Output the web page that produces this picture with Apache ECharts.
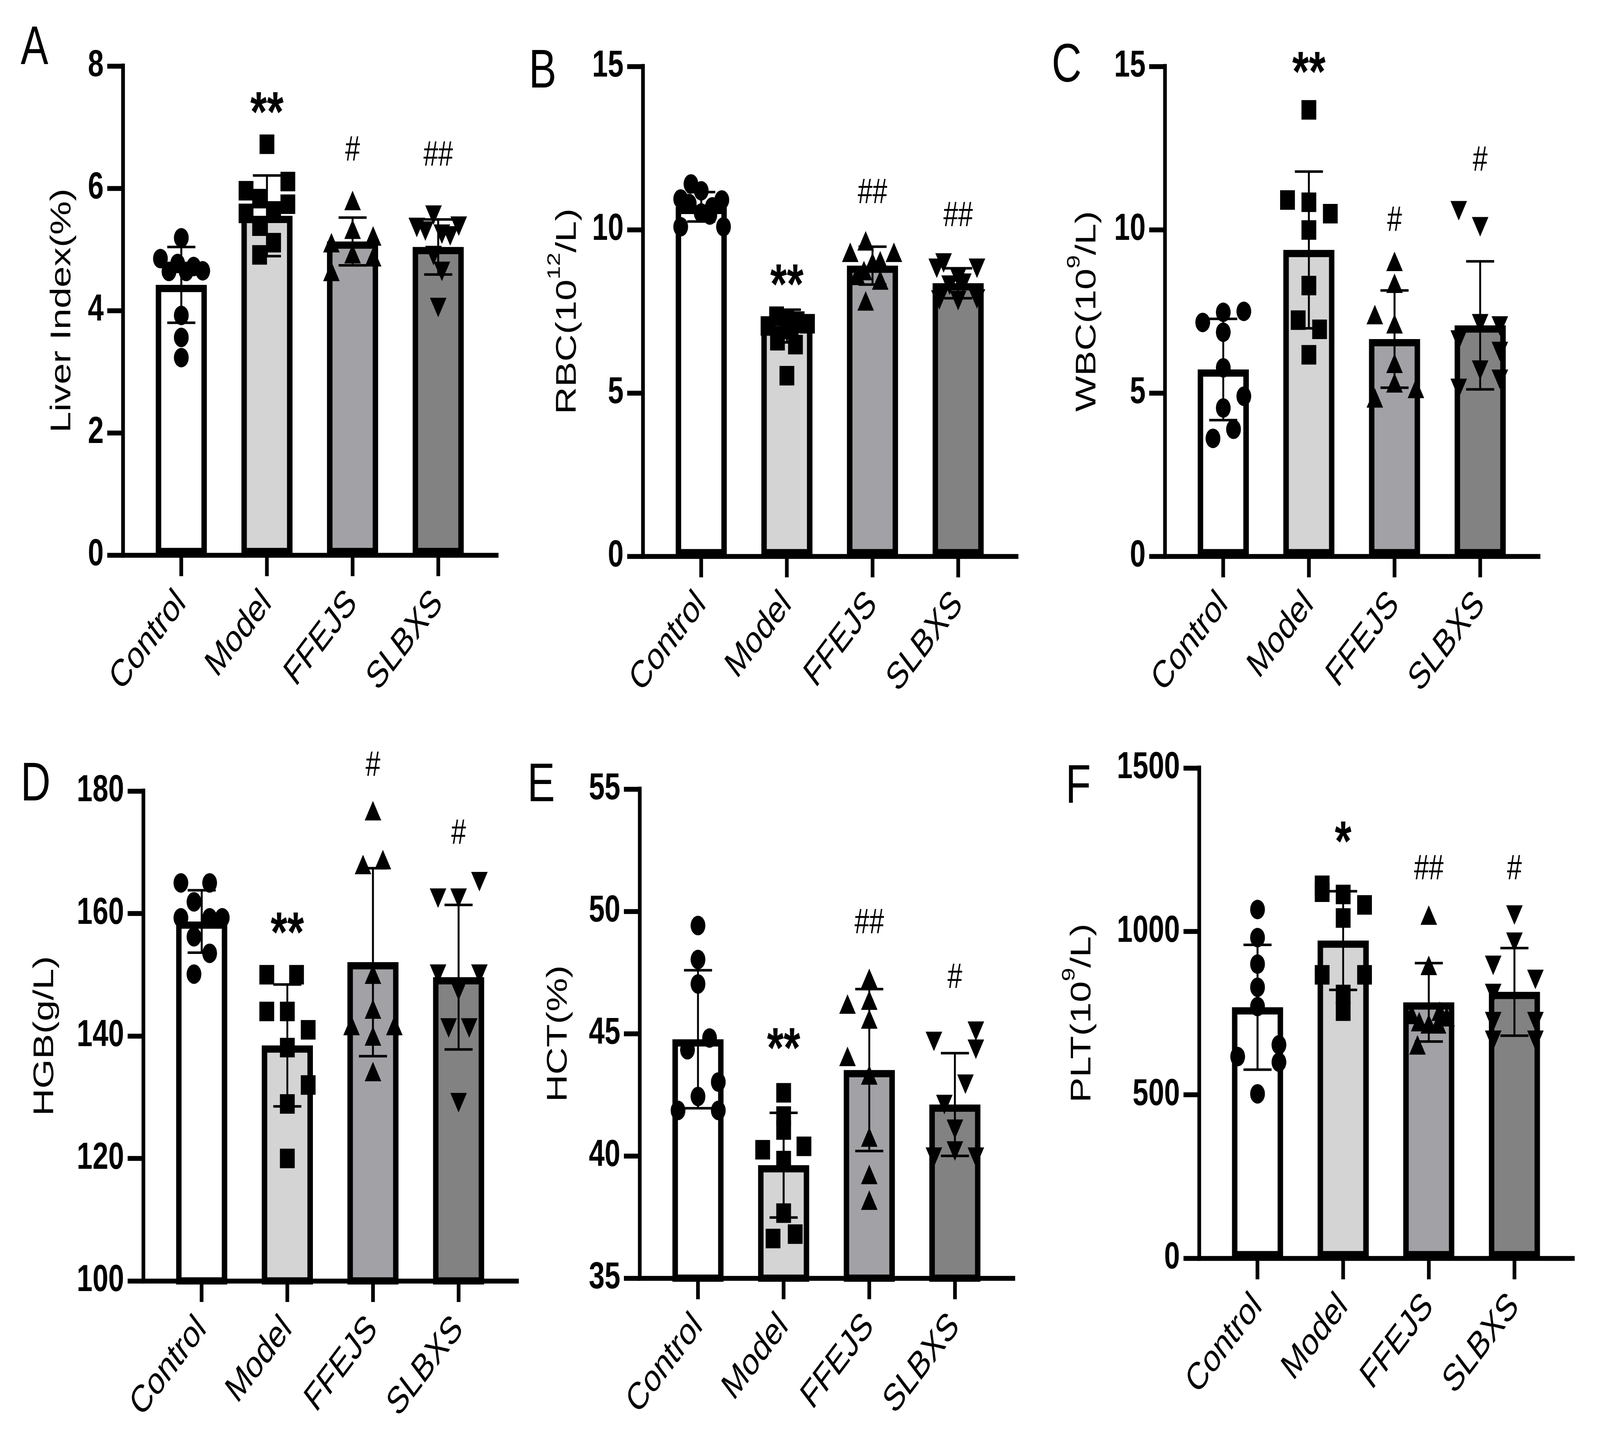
<!DOCTYPE html>
<html><head><meta charset="utf-8">
<script src="https://cdn.jsdelivr.net/npm/echarts@6/dist/echarts.min.js"></script>
<style>html,body{margin:0;padding:0;background:#fff;overflow:hidden;width:100%;height:100%}
#c{position:absolute;left:0;top:0;width:5416px;height:3717px;transform-origin:0 0}</style>
</head><body><div id="c"></div>
<script>
const categories = ['Control', 'Model', 'FFEJS', 'SLBXS'];

// A: Liver Index (%)
const liverMean = [4.42, 5.55, 5.13, 5.04];
const liverSD = [0.62, 0.66, 0.39, 0.45];
const liverValues = [
  [5.19, 4.85, 4.64, 4.77, 4.64, 4.72, 4.65, 3.92, 3.56, 3.23],
  [6.72, 5.96, 6.11, 5.83, 5.74, 5.59, 5.63, 5.38, 5.11, 4.91],
  [5.80, 5.33, 4.93, 5.11, 4.64, 5.22, 4.88],
  [5.56, 5.38, 5.36, 5.30, 5.25, 5.22, 4.90, 4.64, 4.05]
];
const liverSig = ['', '**', '#', '##'];
const liverSigY = [null, 7.39, 6.61, 6.53];

// B: RBC (10^12/L)
const rbcMean = [10.70, 7.05, 8.90, 8.36];
const rbcSD = [0.45, 0.50, 0.58, 0.46];
const rbcValues = [
  [11.40, 11.19, 10.94, 10.91, 10.80, 10.70, 10.51, 10.45, 10.09, 10.09],
  [7.35, 7.26, 7.20, 7.12, 7.05, 6.95, 6.60, 6.48, 5.53],
  [9.66, 9.31, 9.31, 9.05, 9.00, 8.75, 8.60, 8.46, 7.82],
  [8.98, 8.82, 8.82, 8.53, 8.36, 8.30, 7.85, 7.83, 7.88]
];
const rbcSig = ['', '**', '##', '##'];
const rbcSigY = [null, 8.60, 11.11, 10.40];

// C: WBC (10^9/L)
const wbcMean = [5.72, 9.38, 6.65, 7.07];
const wbcSD = [1.55, 2.40, 1.49, 1.96];
const wbcValues = [
  [7.16, 7.47, 7.50, 6.86, 5.77, 4.90, 4.54, 3.61, 3.89],
  [13.67, 10.91, 10.84, 10.49, 9.99, 8.29, 7.23, 6.95, 6.17],
  [9.03, 8.36, 7.40, 7.12, 5.91, 5.31, 5.14, 4.85],
  [10.58, 10.09, 7.12, 7.05, 6.62, 6.27, 5.70, 5.14, 5.42]
];
const wbcSig = ['', '**', '#', '#'];
const wbcSigY = [null, 15.11, 10.26, 12.10];

// D: HGB (g/L)
const hgbMean = [158.7, 138.45, 152.05, 149.6];
const hgbSD = [5.1, 9.95, 15.35, 11.8];
const hgbValues = [
  [165, 165, 161.9, 159.3, 159.3, 159.3, 156.2, 153.5, 150.1],
  [150, 150, 144, 144, 141, 138.1, 132, 128.9, 120],
  [176.8, 168, 168.8, 150.1, 144.4, 141.7, 141.7, 140, 134.2],
  [162.5, 162.5, 165.2, 150.1, 150.1, 147.4, 141.3, 141.3, 129.1]
];
const hgbSig = ['', '**', '#', '#'];
const hgbSigY = [null, 158.35, 184.06, 173.0];

// E: HCT (%)
const hctMean = [44.77, 39.62, 43.51, 42.10];
const hctSD = [2.82, 2.14, 3.31, 2.10];
const hctValues = [
  [49.42, 48.03, 47.03, 44.82, 44.34, 43.02, 42.43, 41.86, 41.86],
  [42.58, 41.63, 41.06, 40.25, 40.39, 39.81, 37.66, 36.62, 36.80],
  [47.26, 46.21, 46.37, 45.60, 44.07, 43.31, 40.77, 39.24, 38.19],
  [44.68, 45.10, 44.36, 42.93, 42.10, 41.09, 39.95, 40.20, 39.95]
];
const hctSig = ['', '**', '##', '#'];
const hctSigY = [null, 44.78, 49.50, 47.26];

// F: PLT (10^9/L)
const pltMean = [768, 972, 783, 815];
const pltSD = [191, 151, 120, 134];
const pltValues = [
  [1067, 981, 900, 829, 770, 653, 617, 600, 503],
  [1141, 1120, 1113, 1081, 1041, 867, 867, 807, 756],
  [1050, 896, 746, 756, 724, 717, 717, 739, 653],
  [1050, 967, 896, 853, 810, 724, 724, 667, 667]
];
const pltSig = ['', '*', '##', '#'];
const pltSigY = [null, 1303, 1189, 1189];

// Horizontal scatter jitter of the dots (layout only, in category units)
const jitter = {
  liver: [[0, -0.244, -0.144, -0.043, 0.057, 0.144, 0.25, 0, 0, 0],
          [0, -0.244, 0.244, -0.086, 0.244, -0.244, 0.078, -0.086, 0.078, -0.086],
          [0, 0, 0, -0.247, -0.247, 0.24, 0.24],
          [-0.055, 0.24, -0.25, -0.15, 0.043, 0.14, -0.055, 0.043, 0]],
  rbc:   [[-0.12, 0.0, -0.24, 0.24, -0.14, 0.13, 0.0, 0.10, -0.24, 0.26],
          [-0.12, 0, 0.12, 0.24, -0.22, 0.05, -0.11, 0.1, 0],
          [-0.08, -0.26, 0.25, 0.09, 0.0, -0.1, -0.18, 0.09, -0.08],
          [-0.17, -0.25, 0.22, 0, 0.06, -0.1, -0.22, 0, 0.22]],
  wbc:   [[-0.24, 0, 0.24, 0, 0, 0.24, 0, -0.12, 0.12],
          [0, -0.25, 0, 0.25, 0, 0, -0.125, 0.125, 0],
          [0, 0, -0.23, 0, 0, 0, 0.25, -0.23],
          [-0.25, 0, 0, 0.23, -0.25, 0.23, 0, -0.25, 0.23]],
  hgb:   [[-0.243, 0.093, -0.09, -0.243, 0.093, 0.24, -0.09, 0.093, -0.09],
          [-0.24, 0.108, -0.24, 0, 0.243, 0, 0.243, 0, 0],
          [0, -0.116, 0.116, 0, 0, -0.25, 0.25, 0, 0],
          [-0.24, 0, 0.243, -0.24, 0.243, 0, -0.116, 0.124, 0]],
  hct:   [[0, 0, 0, 0.135, -0.123, 0.237, 0, -0.233, 0.237],
          [0, 0, 0, -0.245, 0.237, 0, 0, -0.123, 0.135],
          [0, -0.254, 0, 0, -0.254, 0, 0, 0, 0],
          [-0.245, 0.245, 0.245, 0.123, -0.123, 0, -0.245, 0, 0.245]],
  plt:   [[0, 0, 0, 0, 0, 0.25, -0.232, 0.25, 0],
          [-0.245, -0.245, 0, 0.25, 0, -0.245, 0.25, 0, 0],
          [0, 0, -0.2, 0.128, -0.112, 0, 0.108, 0.208, -0.132],
          [0, 0, -0.248, 0.245, -0.248, -0.248, 0.245, 0.245, -0.248]]
};

const FONT = "'Liberation Sans', Arial, sans-serif";
const barColors = ['#ffffff', '#d4d4d4', '#a2a2a6', '#828282'];
const symbols = [
  { symbol: 'circle', size: 50, rotate: 0 },
  { symbol: 'rect', size: 50, rotate: 0 },
  { symbol: 'triangle', size: [56, 50], rotate: 0 },
  { symbol: 'triangle', size: [56, 50], rotate: 180 }
];

const panels = [
  { key: 'liver', letter: 'A', name: 'Liver Index(%)', mean: liverMean, sd: liverSD, values: liverValues, sig: liverSig, sigY: liverSigY,
    min: 0, max: 8, interval: 2, left: 416, top: 169, height: 1252, nameGap: 156, lx: 70, ly: 55 },
  { key: 'rbc', letter: 'B', name: '{m|RBC(10}{s|12}{m|/L)}', mean: rbcMean, sd: rbcSD, values: rbcValues, sig: rbcSig, sigY: rbcSigY,
    min: 0, max: 15, interval: 5, left: 2176, top: 170, height: 1254, nameGap: 205, lx: 1790, ly: 115 },
  { key: 'wbc', letter: 'C', name: '{m|WBC(10}{s|9}{m|/L)}', mean: wbcMean, sd: wbcSD, values: wbcValues, sig: wbcSig, sigY: wbcSigY,
    min: 0, max: 15, interval: 5, left: 3943, top: 170, height: 1254, nameGap: 213, lx: 3560, ly: 100 },
  { key: 'hgb', letter: 'D', name: 'HGB(g/L)', mean: hgbMean, sd: hgbSD, values: hgbValues, sig: hgbSig, sigY: hgbSigY,
    min: 100, max: 180, interval: 20, left: 485, top: 2025, height: 1254, nameGap: 283, lx: 70, ly: 1940 },
  { key: 'hct', letter: 'E', name: 'HCT(%)', mean: hctMean, sd: hctSD, values: hctValues, sig: hctSig, sigY: hctSigY,
    min: 35, max: 55, interval: 5, left: 2165, top: 2020, height: 1252, nameGap: 225, lx: 1785, ly: 1942 },
  { key: 'plt', letter: 'F', name: '{m|PLT(10}{s|9}{m|/L)}', mean: pltMean, sd: pltSD, values: pltValues, sig: pltSig, sigY: pltSigY,
    min: 0, max: 1500, interval: 500, left: 4059, top: 1966, height: 1255, nameGap: 346, lx: 3607, ly: 1946 }
];

const option = { backgroundColor: '#ffffff', animation: false, grid: [], xAxis: [], yAxis: [], series: [], title: [] };

panels.forEach((p, i) => {
  option.grid.push({ left: p.left, top: p.top, width: 1265, height: p.height, containLabel: false, outerBoundsMode: 'none' });
  option.title.push({ text: p.letter, left: p.lx, top: p.ly, padding: 0,
    textStyle: { fontSize: 140, fontWeight: 'normal', fontFamily: FONT, color: '#000' } });
  option.xAxis.push({
    type: 'value', gridIndex: i, min: -0.682, max: 3.682, z: 6,
    axisLine: { show: true, onZero: false, lineStyle: { color: '#000', width: 12.5, cap: 'square' } },
    axisTick: { show: true, customValues: [0, 1, 2, 3], length: 54, lineStyle: { color: '#000', width: 12.5 } },
    axisLabel: { show: true, customValues: [0, 1, 2, 3], formatter: v => categories[Math.round(v)] || '',
      rotate: 45, margin: 108, fontSize: 98, fontFamily: FONT, color: '#000' },
    splitLine: { show: false }
  });
  option.yAxis.push({
    type: 'value', gridIndex: i, min: p.min, max: p.max, interval: p.interval, z: 6,
    axisLine: { show: true, onZero: false, lineStyle: { color: '#000', width: 12.5, cap: 'square' } },
    axisTick: { show: true, length: 53, lineStyle: { color: '#000', width: 12.5 } },
    axisLabel: { fontSize: 96, fontWeight: 'bold', fontFamily: FONT, color: '#000', margin: 65, formatter: v => String(v) },
    splitLine: { show: false },
    name: p.name, nameLocation: 'middle', nameGap: p.nameGap, nameMoveOverlap: false,
    nameTextStyle: { fontSize: 97, fontFamily: FONT, color: '#000',
      rich: { m: { fontSize: 97, lineHeight: 97, fontFamily: FONT, color: '#000', verticalAlign: 'bottom' },
              s: { fontSize: 62, lineHeight: 124, fontFamily: FONT, color: '#000', verticalAlign: 'top' } } }
  });
  // bars: group means
  option.series.push({
    type: 'bar', xAxisIndex: i, yAxisIndex: i, barWidth: 173, clip: true, z: 2, silent: true,
    itemStyle: { borderColor: '#000', borderWidth: 18.5 },
    data: p.mean.map((m, j) => ({ value: [j, m], itemStyle: { color: barColors[j] } }))
  });
  // error bars: mean ± SD
  option.series.push({
    type: 'custom', xAxisIndex: i, yAxisIndex: i, z: 3, silent: true,
    data: p.mean.map((m, j) => [j, m - p.sd[j], m + p.sd[j]]),
    renderItem: (params, api) => {
      const x = api.value(0);
      const lo = api.coord([x, api.value(1)]);
      const hi = api.coord([x, api.value(2)]);
      const w = 47.5;
      const st = { stroke: '#000', lineWidth: 6.5 };
      return { type: 'group', children: [
        { type: 'line', shape: { x1: lo[0], y1: lo[1], x2: hi[0], y2: hi[1] }, style: st },
        { type: 'line', shape: { x1: hi[0] - w, y1: hi[1], x2: hi[0] + w, y2: hi[1] }, style: st },
        { type: 'line', shape: { x1: lo[0] - w, y1: lo[1], x2: lo[0] + w, y2: lo[1] }, style: st }
      ] };
    }
  });
  // individual animals
  p.values.forEach((vals, j) => {
    const sy = symbols[j];
    option.series.push({
      type: 'scatter', xAxisIndex: i, yAxisIndex: i, z: 4, silent: true,
      symbol: sy.symbol, symbolSize: sy.size, symbolRotate: sy.rotate,
      itemStyle: { color: '#000', opacity: 1 },
      data: vals.map((v, k) => [j + jitter[p.key][j][k], v])
    });
  });
  // significance marks
  const sigData = [];
  p.sigY.forEach((y, j) => { if (y !== null) sigData.push([j, y, j]); });
  option.series.push({
    type: 'custom', xAxisIndex: i, yAxisIndex: i, z: 5, silent: true,
    data: sigData,
    renderItem: (params, api) => {
      const j = api.value(2);
      const t = p.sig[j];
      const pt = api.coord([api.value(0), api.value(1)]);
      const star = t.indexOf('*') >= 0;
      const fs = star ? 145 : 90;
      return { type: 'text', x: pt[0], y: pt[1] + (star ? 0.22 * fs : 0),
        style: { text: t, fill: '#000', fontSize: fs, fontWeight: star ? 'bold' : 'normal',
          fontFamily: FONT, align: 'center', verticalAlign: 'middle' } };
    }
  });
});

// The figure is laid out at 5416×3717; fit it to the actual window if that differs.
const el = document.getElementById('c');
const sx = (window.innerWidth || 5416) / 5416;
const sy = (window.innerHeight || 3717) / 3717;
if (Math.abs(sx - 1) > 1e-3 || Math.abs(sy - 1) > 1e-3) {
  el.style.transform = 'scale(' + sx + ',' + sy + ')';
}
const chart = echarts.init(el, null, { renderer: 'canvas', width: 5416, height: 3717 });
chart.setOption(option);
</script></body></html>
